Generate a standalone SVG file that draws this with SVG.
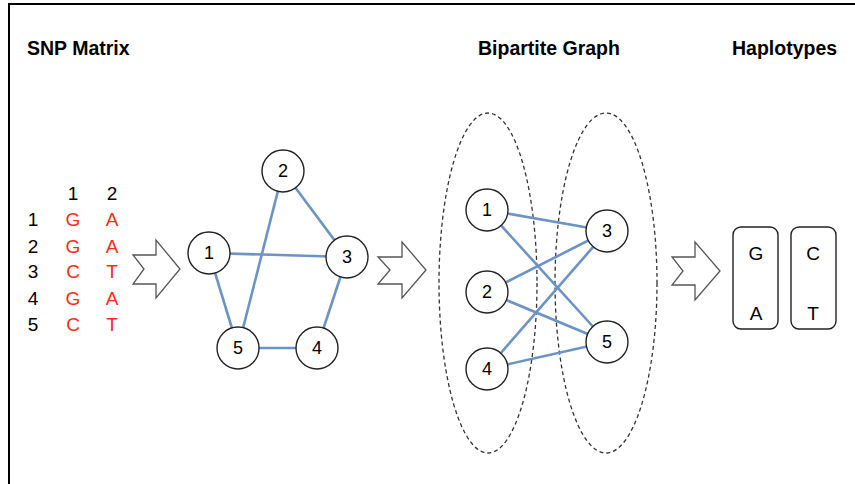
<svg xmlns="http://www.w3.org/2000/svg" width="855" height="484" viewBox="0 0 855 484">
<style>
.title{font-family:"Liberation Sans",Arial,sans-serif;font-weight:bold;font-size:19.5px;fill:#000}
.m{font-family:"Liberation Sans",Arial,sans-serif;font-size:19px;text-anchor:middle;dominant-baseline:central}
.k{fill:#000}
.r{fill:#ff2a1a}
.node circle{fill:#fff;stroke:#222;stroke-width:1.4}
.node text{font-family:"Liberation Sans",Arial,sans-serif;font-size:18px;text-anchor:middle;dominant-baseline:central;fill:#000}
.edge{stroke:#6b93c4;stroke-width:2.6;fill:none}
.arrow{fill:#fff;stroke:#555;stroke-width:1.3;stroke-linejoin:miter}
.set{fill:none;stroke:#333;stroke-width:1.3;stroke-dasharray:4 3}
.box rect{fill:#fff;stroke:#222;stroke-width:1.4}
.box text{font-family:"Liberation Sans",Arial,sans-serif;font-size:19px;text-anchor:middle;dominant-baseline:central;fill:#000}
</style>
<rect width="855" height="484" fill="#fff"/>
<path d="M9,484 V4 H855" fill="none" stroke="#000" stroke-width="2"/>
<text class="title" x="27" y="55">SNP Matrix</text>
<text class="title" x="478" y="55">Bipartite Graph</text>
<text class="title" x="732" y="55">Haplotypes</text>
<g id="matrix">
<text class="m k" x="73" y="193">1</text>
<text class="m k" x="112" y="193">2</text>
<text class="m k" x="33" y="219">1</text><text class="m r" x="73" y="219">G</text><text class="m r" x="112" y="219">A</text>
<text class="m k" x="33" y="246">2</text><text class="m r" x="73" y="246">G</text><text class="m r" x="112" y="246">A</text>
<text class="m k" x="33" y="271">3</text><text class="m r" x="73" y="271">C</text><text class="m r" x="112" y="271">T</text>
<text class="m k" x="33" y="298">4</text><text class="m r" x="73" y="298">G</text><text class="m r" x="112" y="298">A</text>
<text class="m k" x="33" y="324">5</text><text class="m r" x="73" y="324">C</text><text class="m r" x="112" y="324">T</text>
</g>
<g id="arrows">
<polygon class="arrow" points="133,255 156,255 156,240 180,269 156,298 156,284 133,284 144,269"/>
<polygon class="arrow" points="378,257 402,257 402,242 426,270 402,298 402,284 378,284 390,270"/>
<polygon class="arrow" points="672,257 695,257 695,242 720,271 695,300 695,285 672,285 683,271"/>
</g>
<g id="sets">
<ellipse class="set" cx="488" cy="283" rx="49" ry="170"/>
<ellipse class="set" cx="606" cy="283" rx="51" ry="170"/>
</g>
<g id="connectors">
<line class="edge" x1="283" y1="171" x2="347" y2="257"/>
<line class="edge" x1="283" y1="171" x2="238" y2="348"/>
<line class="edge" x1="209" y1="253" x2="347" y2="257"/>
<line class="edge" x1="209" y1="253" x2="238" y2="348"/>
<line class="edge" x1="238" y1="348" x2="317" y2="348"/>
<line class="edge" x1="347" y1="257" x2="317" y2="348"/>
<line class="edge" x1="487" y1="210" x2="607" y2="231"/>
<line class="edge" x1="487" y1="210" x2="607" y2="342"/>
<line class="edge" x1="487" y1="292" x2="607" y2="231"/>
<line class="edge" x1="487" y1="292" x2="607" y2="342"/>
<line class="edge" x1="487" y1="369" x2="607" y2="231"/>
<line class="edge" x1="487" y1="369" x2="607" y2="342"/>
</g>
<g id="g1-n2" class="node"><circle cx="283" cy="171" r="21"/><text x="283" y="171">2</text></g>
<g id="g1-n1" class="node"><circle cx="209" cy="253" r="21"/><text x="209" y="253">1</text></g>
<g id="g1-n3" class="node"><circle cx="347" cy="257" r="21"/><text x="347" y="257">3</text></g>
<g id="g1-n5" class="node"><circle cx="238" cy="348" r="21"/><text x="238" y="348">5</text></g>
<g id="g1-n4" class="node"><circle cx="317" cy="348" r="21"/><text x="317" y="348">4</text></g>
<g id="g2-n1" class="node"><circle cx="487" cy="210" r="21"/><text x="487" y="210">1</text></g>
<g id="g2-n2" class="node"><circle cx="487" cy="292" r="21"/><text x="487" y="292">2</text></g>
<g id="g2-n4" class="node"><circle cx="487" cy="369" r="21"/><text x="487" y="369">4</text></g>
<g id="g2-n3" class="node"><circle cx="607" cy="231" r="21"/><text x="607" y="231">3</text></g>
<g id="g2-n5" class="node"><circle cx="607" cy="342" r="21"/><text x="607" y="342">5</text></g>
<g id="hap1" class="box"><rect x="733" y="227" width="45" height="102" rx="8"/><text x="756" y="253">G</text><text x="756" y="313">A</text></g>
<g id="hap2" class="box"><rect x="791" y="227" width="45" height="102" rx="8"/><text x="813" y="253">C</text><text x="813" y="313">T</text></g>
</svg>
